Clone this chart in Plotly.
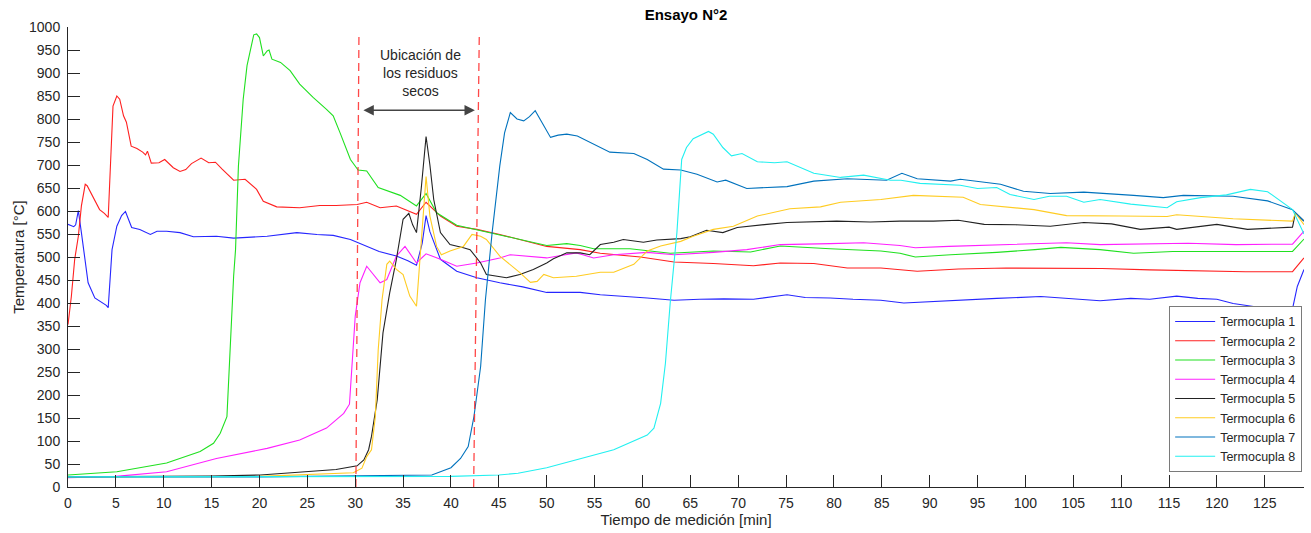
import plotly.graph_objects as go

# ---------------- data ----------------
t1 = [0, 0.6, 0.8, 1.08, 1.4, 1.8, 2.1, 2.8, 3.3, 4.0, 4.2, 4.6, 5.1, 5.6, 6.0, 6.3, 6.65, 7.5, 8.6, 9.3, 10.3, 11.7,
      13.1, 15.5, 17.3, 20.8, 23.9, 26.0, 27.7, 29.5, 31.2, 32.5, 34.3, 35.5, 36.4, 37.0, 37.4, 37.8, 38.9, 40.6,
      42.7, 45.1, 47.5, 50, 53.5, 55.6, 60.5, 63.3, 66, 68.5, 71.6, 75.1, 77, 79.6, 82, 84.9, 87.3, 90, 93.9, 97,
      101.6, 104.5, 107.8, 111, 113, 115.8, 118, 120, 121.7, 124, 126, 127.9, 128.4, 129.1]
v1 = [571, 566, 570, 601, 553, 495, 444, 411, 405, 395, 390, 516, 567, 590, 599, 582, 564, 560, 549, 556, 556, 553,
      544, 545, 541, 545, 553, 549, 547, 538, 523, 512, 502, 492, 482, 530, 590, 555, 495, 469,
      455, 444, 435, 423, 423, 418, 411, 406, 408, 409, 408, 418, 412, 411, 408, 406, 400, 403, 407, 410,
      414, 410, 405, 410, 408, 415, 410, 408, 399, 392, 388, 387, 436, 473]

t2 = [0, 0.35, 0.7, 1.08, 1.4, 1.8, 2.0, 2.6, 3.3, 3.8, 4.2, 4.7, 5.1, 5.4, 5.8, 6.1, 6.6, 7.2, 7.8, 8.1, 8.3, 8.7,
      9.5, 10.1, 11.0, 11.7, 12.3, 12.9, 13.9, 14.7, 15.4, 16.1, 17.3, 18.5, 19.7, 20.4, 21.8, 24.2, 26.3, 28,
      30.2, 31.2, 32.6, 34.3, 36.4, 37.4, 38.9, 40.6, 42.7, 45.1, 50, 53.5, 55.6, 59.8, 63.3, 67.4, 71.6, 74.4,
      77.9, 81.4, 84.9, 88.7, 93, 98, 103, 108, 113, 118, 123, 127.9, 129.1]
v2 = [353, 414, 495, 545, 611, 658, 655, 632, 603, 595, 586, 828, 850, 843, 807, 793, 741, 736, 728, 722, 730, 704,
      705, 712, 694, 686, 690, 703, 715, 705, 706, 691, 667, 669, 647, 621, 609, 607, 612, 612,
      614, 619, 607, 611, 593, 619, 589, 567, 560, 549, 523, 516, 508, 500, 489, 486, 481, 487,
      486, 476, 476, 469, 474, 476, 476, 475, 472, 470, 468, 468, 498]

t3 = [0, 5.1, 10.3, 13.8, 15.2, 15.9, 16.6, 16.9, 17.3, 17.5, 17.8, 18.3, 18.7, 19.0, 19.4, 19.7, 20.0, 20.4,
      20.8, 21.0, 21.3, 22.2, 23.2, 24.2, 25.6, 27.0, 27.7, 28.4, 29.5, 30.3, 31.2, 32.4, 34.7, 36.4, 37.4, 38.5,
      40.6, 45.1, 50, 52.1, 53.5, 54.9, 58.7, 62.9, 67.4, 71.3, 74.4, 79.6, 84.9, 86.9, 88.5, 92.2, 97, 101,
      103.7, 107.8, 111.3, 115.4, 120, 124, 127.9, 129.1]
v3 = [26, 33, 52, 77, 95, 117, 153, 298, 458, 516, 698, 843, 916, 945, 983, 985, 977, 937,
      948, 950, 930, 923, 905, 876, 847, 821, 807, 771, 712, 689, 687, 651, 634, 611, 638, 596,
      569, 548, 525, 529, 525, 518, 518, 508, 513, 511, 524, 518, 513, 508, 500, 505, 510, 516,
      521, 516, 508, 512, 512, 512, 512, 539]

t4 = [0, 5, 10.3, 15.5, 20.8, 24.2, 27.0, 28.8, 29.4, 29.7, 30.0, 30.5, 31.2, 32.6, 33.3, 34.3, 35.2, 36.4, 37.4,
      38.9, 40.6, 42.7, 45.1, 46.2, 50, 53.1, 54.9, 57, 60.5, 63.3, 67.4, 70.9, 74.4, 79.6, 83.1, 86.9, 88.5,
      92, 97.4, 104.3, 107.8, 112, 117, 122, 127.9, 129.1]
v4 = [20, 23, 33, 62, 84, 102, 128, 160, 180, 290, 371, 444, 480, 444, 451, 502, 523, 487, 507,
      495, 480, 487, 498, 505, 498, 509, 498, 505, 510, 505, 510, 516, 527, 529, 531, 525, 520,
      523, 527, 531, 527, 528, 530, 527, 528, 556]

t5 = [0, 10, 15, 20.1, 24.9, 28, 30.2, 30.9, 31.4, 31.7, 32.3, 32.9, 33.6, 34.3, 35.0, 35.6, 36.0, 36.4, 36.9,
      37.4, 37.8, 38.2, 38.9, 39.9, 41.3, 42.0, 43.1, 43.7, 45.8, 47.2, 48.6, 50, 50.7, 52.1, 53.5, 54.5, 55.6,
      57, 58, 60.1, 61.5, 64, 65, 66.7, 68.4, 69.9, 73, 75.1, 80.3, 83.8, 86.9, 90.4, 93, 95.7, 99, 102.6,
      106.1, 109, 112, 115, 115.8, 120, 123.2, 127.9, 128.2, 129.1]
v5 = [22, 23, 24, 26, 33, 38, 46, 59, 81, 110, 190, 335, 422, 495, 582, 595, 570, 553, 650,
      762, 700, 625, 553, 527, 520, 516, 487, 462, 455, 462, 473, 487, 496, 509, 509, 505, 527,
      532, 538, 532, 537, 540, 544, 558, 553, 564, 571, 575, 578, 576, 578, 578, 580, 571, 570, 567,
      575, 572, 560, 565, 560, 571, 560, 565, 596, 578]

t6 = [0, 10, 20, 29.8, 30.7, 31.2, 31.7, 32.1, 32.4, 32.8, 33.3, 33.6, 34.3, 35.0, 35.7, 36.4, 36.9, 37.4, 37.8,
      38.5, 39.0, 39.9, 41.3, 42.2, 43.1, 43.7, 45.1, 47.2, 48.3, 49, 49.7, 50.7, 53.1, 55.6, 57, 59.1, 60.5,
      61.9, 64, 65.3, 67.4, 69.5, 72, 75.4, 78.6, 80.7, 84.9, 88.3, 93.5, 95.3, 100.9, 104.3, 110, 114.8,
      115.8, 121.7, 127.9, 128.2, 129.1]
v6 = [22, 22, 23, 31, 41, 66, 81, 153, 298, 407, 484, 491, 473, 462, 415, 393, 531, 675, 589,
      523, 505, 513, 523, 549, 545, 538, 502, 466, 445, 447, 462, 455, 458, 467, 467, 484, 513,
      524, 534, 545, 560, 567, 589, 605, 609, 619, 625, 634, 630, 614, 603, 590, 589, 588,
      592, 583, 578, 596, 570]

t7 = [0, 20, 38, 40, 41, 41.8, 42.4, 43.1, 43.6, 44.3, 45.1, 45.6, 46.2, 46.9, 47.6, 48.2, 48.8, 49.3, 50.4,
      51.2, 52.1, 53.2, 54.5, 56.6, 59.1, 60.5, 62.2, 64, 65.7, 67.8, 68.7, 70.9, 75.1, 77.9, 81.4, 85.5, 87.1,
      88.7, 92.2, 93.2, 97.4, 99.8, 102.6, 106.1, 111.3, 114.4, 116.5, 121.7, 125.3, 127.9, 129.1]
v7 = [22, 22, 26, 42, 62, 88, 153, 262, 407, 553, 698, 770, 814, 800, 796, 805, 818, 800, 760,
      765, 767, 763, 749, 728, 725, 712, 691, 689, 680, 663, 667, 649, 653, 665, 670, 667, 682,
      670, 665, 669, 658, 643, 638, 641, 634, 629, 634, 632, 622, 603, 578]

t8 = [0, 30, 40, 45, 47, 50, 53.5, 57, 60.5, 61.2, 61.9, 62.4, 62.9, 63.6, 64.1, 64.6, 65.3, 66.9, 67.4, 68.4,
      69.3, 70.4, 72, 73.8, 75.1, 77.9, 80.7, 83.1, 85.9, 87, 89, 93.2, 95, 97, 98.4, 100.9, 102.5, 104.3,
      106.1, 107.8, 111, 114.8, 115.8, 118.3, 121, 123.5, 125.3, 127.9, 129.1]
v8 = [22, 22, 23, 26, 30, 42, 62, 81, 113, 128, 182, 269, 400, 553, 712, 738, 757, 773, 767, 738,
      720, 725, 707, 705, 707, 682, 673, 678, 667, 667, 660, 656, 649, 651, 636, 625, 632, 632,
      619, 625, 615, 607, 620, 629, 635, 647, 642, 603, 550]

series_names = ["Termocupla 1", "Termocupla 2", "Termocupla 3", "Termocupla 4",
                "Termocupla 5", "Termocupla 6", "Termocupla 7", "Termocupla 8"]
series_t = [t1, t2, t3, t4, t5, t6, t7, t8]
series_v = [v1, v2, v3, v4, v5, v6, v7, v8]
series_colors = ["#2626ff", "#ff2020", "#20e020", "#ff20ff", "#222222", "#ffcc22", "#0072BD", "#22f0f0"]

# dashed markers of the dry-residue zone (start/end of each line: time, temperature)
zone1_t = [30.07, 30.39]
zone2_t = [42.37, 42.96]
zone_v = [0, 985]
arrow_t = [30.7, 42.5]
arrow_v = 819
label_t = 36.85
label_v = 900
label_text = "Ubicación de<br>los residuos<br>secos"

x_ticks = list(range(0, 130, 5))
y_ticks = list(range(0, 1001, 50))

# ---------------- figure ----------------
fig = go.Figure()
for name, tt, vv, col in zip(series_names, series_t, series_v, series_colors):
    fig.add_trace(go.Scatter(x=tt, y=vv, mode="lines", name=name,
                             line=dict(color=col, width=1.1)))

for zt in (zone1_t, zone2_t):
    fig.add_trace(go.Scatter(x=zt, y=zone_v, mode="lines", showlegend=False,
                             line=dict(color="rgba(255,40,40,0.85)", width=1.3, dash="8px,5px"),
                             hoverinfo="skip"))

fig.add_annotation(x=arrow_t[1], y=arrow_v, ax=arrow_t[0], ay=arrow_v,
                   xref="x", yref="y", axref="x", ayref="y", text="",
                   showarrow=True, arrowside="end+start", arrowhead=2, arrowsize=1.3,
                   arrowwidth=1.6, arrowcolor="#444444", standoff=0, startstandoff=0)
fig.add_annotation(x=label_t, y=label_v, xref="x", yref="y", text=label_text,
                   showarrow=False, font=dict(family="Liberation Sans, Arial", size=14, color="#262626"),
                   align="center")

fig.update_layout(
    width=1311, height=533, autosize=False,
    margin=dict(l=68, r=7, t=27, b=46),
    paper_bgcolor="white", plot_bgcolor="white",
    font=dict(family="Liberation Sans, Arial", size=14, color="#262626"),
    title=dict(text="<b>Ensayo N°2</b>", x=0.5, xref="paper", y=1 - 15 / 533, yref="container",
               xanchor="center", yanchor="middle",
               font=dict(family="Liberation Sans, Arial", size=15, color="#000000")),
    showlegend=True,
    legend=dict(x=0.9985, y=0.033, xanchor="right", yanchor="bottom",
                bgcolor="white", bordercolor="#7a7a7a", borderwidth=1,
                font=dict(family="Liberation Sans, Arial", size=12.5, color="#262626"),
                tracegroupgap=0, itemwidth=40),
)
fig.update_xaxes(range=[0, 129.1], tickmode="array", tickvals=x_ticks, automargin=False,
                 showline=True, linecolor="#262626", linewidth=1, mirror=False,
                 ticks="inside", ticklen=12, tickcolor="#262626", showgrid=False, zeroline=False,
                 ticklabelstandoff=3,
                 title=dict(text="Tiempo de medición [min]", standoff=3,
                            font=dict(size=15, color="#262626")))
fig.update_yaxes(range=[0, 1000], tickmode="array", tickvals=y_ticks, automargin=False,
                 showline=True, linecolor="#262626", linewidth=1, mirror=False,
                 ticks="inside", ticklen=12, tickcolor="#262626", showgrid=False, zeroline=False,
                 ticklabelstandoff=4,
                 title=dict(text="Temperatura [°C]", standoff=0,
                            font=dict(size=15, color="#262626")))

fig.write_html("out.html", config={"displayModeBar": False},
               post_script="document.body.style.margin='0px';")
